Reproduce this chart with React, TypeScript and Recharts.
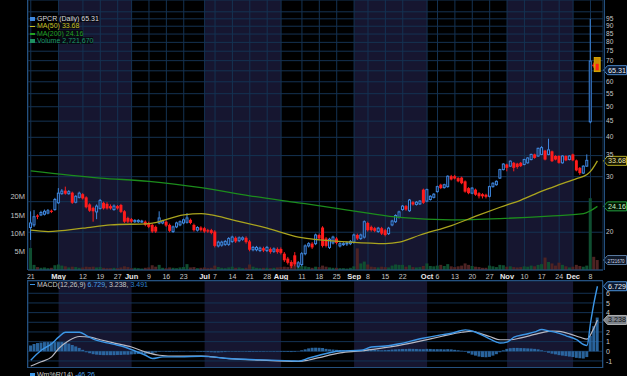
import React from "react";
import {
  ComposedChart,
  Bar,
  Line,
  XAxis,
  YAxis,
  CartesianGrid,
  ReferenceArea,
  ReferenceLine,
} from "recharts";

// ---------------- DATA ----------------
// trading days Apr 21 2014 .. Dec 10 2014 (index 0..163)
const OPEN = [
  20.7, 21.1, 22.6, 22.7, 22.8, 23.0, 23.4, 23.6, 24.8, 26.5,
  27.1, 26.5, 26.7, 24.9, 25.8, 26.4, 25.8, 24.5, 23.9, 23.2,
  23.8, 24.8, 24.6, 24.2, 23.6, 24.2, 24.4, 23.3, 22.2, 22.0,
  21.6, 21.6, 21.6, 21.6, 21.4, 21.1, 20.8, 21.4, 21.4, 21.6,
  21.1, 20.1, 20.8, 21.1, 21.4, 21.5, 21.9, 21.1, 20.3, 20.7,
  20.6, 20.3, 20.3, 20.1, 18.1, 18.2, 18.3, 18.3, 18.7, 19.2,
  18.8, 19.0, 19.2, 18.7, 17.6, 17.6, 17.5, 17.8, 17.5, 17.7,
  17.4, 17.7, 17.7, 17.1, 16.5, 16.1, 16.9, 15.6, 15.8, 17.1,
  18.1, 18.4, 18.4, 19.6, 20.7, 19.1, 17.9, 18.5, 19.1, 18.1,
  18.3, 18.4, 18.4, 18.6, 19.6, 19.1, 19.3, 21.4, 20.8, 20.6,
  20.1, 20.6, 20.3, 19.8, 21.1, 21.6, 22.3, 23.6, 24.2, 23.4,
  24.9, 24.5, 24.6, 27.3, 25.1, 25.4, 25.8, 26.9, 28.3, 27.7,
  27.9, 30.1, 30.1, 29.7, 29.8, 29.0, 27.6, 26.6, 27.3, 26.6,
  26.4, 26.3, 26.0, 27.9, 28.3, 29.7, 31.6, 32.8, 32.4, 33.2,
  33.0, 33.2, 32.8, 33.2, 34.0, 35.3, 34.9, 35.3, 36.3, 35.3,
  36.1, 34.9, 34.9, 33.2, 34.9, 34.0, 35.3, 33.8, 32.0, 30.8,
  32.4, 44.8, 68.0, 68.4,
];
const HIGH = [
  23.3, 23.5, 22.8, 23.4, 23.6, 23.7, 23.6, 25.7, 27.6, 27.4,
  27.9, 27.2, 26.9, 26.2, 26.9, 26.6, 26.0, 24.7, 24.1, 24.5,
  25.5, 25.0, 24.9, 24.5, 24.5, 24.4, 24.6, 23.5, 22.4, 22.2,
  22.0, 22.0, 21.9, 21.8, 21.6, 21.3, 21.0, 23.3, 21.9, 21.8,
  21.3, 21.0, 21.6, 21.8, 22.1, 23.0, 22.1, 21.3, 20.9, 20.9,
  20.8, 20.5, 20.5, 20.3, 18.8, 18.8, 18.9, 19.3, 19.5, 19.4,
  19.4, 19.4, 19.4, 18.9, 18.1, 18.1, 18.0, 18.0, 18.1, 17.9,
  17.9, 17.9, 17.9, 17.3, 16.7, 16.3, 17.3, 16.2, 17.3, 18.3,
  18.6, 18.6, 19.8, 19.8, 20.9, 19.3, 19.2, 19.5, 19.3, 18.6,
  18.6, 18.7, 18.9, 19.8, 19.8, 19.8, 21.8, 21.6, 21.0, 20.8,
  20.8, 20.8, 20.5, 20.8, 21.9, 22.8, 23.4, 24.4, 24.4, 25.5,
  25.1, 25.1, 25.3, 27.5, 27.5, 26.2, 26.6, 28.1, 28.5, 28.5,
  30.3, 30.4, 30.4, 29.9, 30.0, 29.2, 27.8, 27.8, 27.5, 26.8,
  26.6, 26.5, 28.1, 28.8, 29.2, 31.8, 33.1, 33.0, 33.8, 33.4,
  33.2, 33.4, 34.2, 34.6, 35.5, 35.5, 37.1, 37.5, 36.5, 39.6,
  36.3, 35.1, 35.1, 35.1, 35.1, 35.1, 35.5, 34.0, 32.2, 32.6,
  35.3, 95.0, 69.0, 71.6,
];
const LOW = [
  18.9, 20.8, 22.0, 22.5, 22.6, 22.8, 23.0, 23.4, 24.6, 26.3,
  26.3, 26.3, 24.6, 24.7, 25.6, 25.4, 23.8, 23.2, 21.6, 22.0,
  23.6, 23.6, 23.6, 23.6, 23.4, 23.6, 23.0, 21.4, 21.4, 21.4,
  21.4, 21.4, 21.4, 20.9, 20.6, 19.9, 19.9, 21.2, 21.2, 20.8,
  20.0, 19.9, 20.6, 20.9, 21.2, 21.3, 21.2, 20.1, 20.1, 20.1,
  19.9, 19.9, 19.7, 17.9, 17.9, 18.0, 18.1, 18.1, 18.5, 18.5,
  18.6, 18.8, 18.4, 17.4, 17.4, 17.4, 17.3, 17.3, 17.3, 17.1,
  17.2, 17.1, 17.0, 16.1, 15.8, 15.4, 15.6, 15.4, 15.6, 16.9,
  17.9, 17.7, 18.2, 18.9, 17.9, 17.9, 17.7, 18.3, 18.3, 17.9,
  18.1, 18.1, 18.2, 18.4, 18.9, 18.9, 19.1, 20.1, 20.1, 20.0,
  19.9, 19.6, 19.4, 19.6, 20.9, 21.4, 22.1, 23.4, 23.4, 23.2,
  24.3, 24.3, 24.4, 24.6, 24.9, 25.2, 25.6, 26.7, 27.4, 27.5,
  27.7, 29.2, 29.4, 28.8, 28.4, 26.7, 26.4, 26.4, 26.1, 25.6,
  25.6, 25.6, 25.8, 27.7, 28.1, 29.5, 31.4, 31.2, 32.2, 31.2,
  31.8, 32.2, 32.6, 33.0, 33.8, 34.2, 34.7, 35.1, 33.8, 35.1,
  33.4, 33.8, 33.0, 33.0, 33.6, 33.8, 33.6, 31.2, 30.4, 30.6,
  32.2, 44.3, 66.5, 64.6,
];
const CLOSE = [
  21.4, 22.4, 22.4, 23.1, 23.3, 23.4, 23.2, 25.4, 26.6, 27.0,
  26.5, 26.9, 24.8, 26.0, 26.6, 25.6, 24.0, 23.4, 23.3, 24.2,
  25.2, 23.8, 23.8, 23.8, 24.2, 23.8, 23.2, 21.6, 21.6, 21.6,
  21.8, 21.8, 21.7, 21.1, 20.8, 20.1, 20.1, 22.2, 21.7, 21.0,
  20.2, 20.8, 21.4, 21.6, 21.9, 22.2, 21.4, 20.3, 20.7, 20.3,
  20.1, 20.1, 19.9, 18.1, 18.6, 18.6, 18.7, 19.1, 19.3, 18.7,
  19.2, 19.2, 18.6, 17.6, 17.9, 17.9, 17.8, 17.5, 17.9, 17.3,
  17.7, 17.3, 17.2, 16.3, 16.0, 15.6, 15.8, 16.0, 17.1, 18.1,
  18.4, 17.9, 19.6, 19.1, 18.1, 18.1, 19.0, 19.3, 18.5, 18.4,
  18.4, 18.5, 18.7, 19.6, 19.1, 19.6, 21.6, 20.3, 20.3, 20.2,
  20.6, 19.8, 19.6, 20.6, 21.7, 22.6, 23.2, 24.2, 23.6, 25.3,
  24.5, 24.9, 25.1, 24.8, 27.3, 26.0, 26.4, 27.9, 27.6, 28.3,
  30.1, 29.4, 29.6, 29.0, 28.6, 26.9, 26.6, 27.6, 26.3, 26.0,
  26.0, 25.9, 27.9, 28.6, 29.0, 31.6, 32.9, 32.0, 33.6, 32.0,
  32.2, 32.4, 34.0, 34.4, 35.3, 34.4, 36.9, 37.1, 34.0, 36.5,
  33.6, 34.0, 33.2, 34.9, 33.8, 34.9, 33.8, 31.4, 30.8, 32.4,
  33.8, 69.8, 67.2, 65.31,
];
// volume in millions
const VOLUME_M = [
  6.0, 1.4, 0.8, 0.6, 0.7, 0.5, 0.6, 1.3, 1.5, 1.2,
  1.0, 0.7, 0.9, 0.8, 0.6, 0.7, 0.9, 0.8, 0.9, 0.7,
  0.8, 0.6, 0.5, 0.5, 0.6, 0.5, 0.7, 1.0, 0.8, 0.5,
  0.6, 0.5, 0.4, 0.6, 0.7, 1.3, 0.9, 1.4, 0.6, 0.5,
  0.7, 0.6, 0.5, 0.7, 0.8, 1.6, 0.7, 0.8, 0.5, 0.6,
  0.7, 0.5, 0.6, 1.2, 0.8, 0.6, 0.5, 0.7, 0.9, 0.6,
  0.7, 0.5, 0.6, 1.5, 0.9, 0.6, 0.5, 0.6, 0.6, 0.5,
  0.6, 0.7, 0.8, 0.9, 0.8, 1.0, 1.3, 0.9, 1.1, 1.0,
  0.8, 0.6, 0.9, 0.8, 1.2, 0.9, 0.7, 0.6, 0.6, 0.5,
  0.5, 0.4, 0.6, 1.0, 5.9, 1.8, 2.3, 1.5, 0.9, 0.8,
  0.7, 0.9, 0.8, 0.7, 1.2, 1.5, 1.4, 1.4, 0.9, 1.3,
  0.8, 0.7, 0.8, 1.1, 1.8, 1.1, 1.0, 1.2, 1.4, 1.1,
  1.6, 1.0, 0.8, 1.0, 1.2, 1.8, 1.4, 1.1, 0.9, 0.8,
  0.6, 0.6, 1.2, 1.0, 0.8, 1.4, 1.3, 0.9, 1.0, 0.8,
  0.7, 0.8, 1.0, 0.9, 1.2, 1.0, 1.4, 1.6, 3.4, 2.2,
  1.8, 1.2, 2.0, 1.4, 1.0, 0.7, 0.9, 1.4, 1.1, 0.9,
  1.2, 19.6, 3.6, 2.72167,
];
const HIST = [
  0.6, 0.75, 0.85, 0.9, 0.95, 0.95, 0.95, 0.95, 0.95, 0.95,
  0.9, 0.8, 0.65, 0.5, 0.35, 0.15, -0.1, -0.2, -0.3, -0.35,
  -0.38, -0.4, -0.4, -0.4, -0.4, -0.38, -0.38, -0.35, -0.35, -0.32,
  -0.3, -0.28, -0.3, -0.3, -0.25, -0.2, -0.12, -0.05, -0.02, -0.05,
  -0.06, -0.05, -0.04, -0.03, -0.02, 0.0, 0.02, -0.02, -0.05, -0.06,
  -0.06, -0.08, -0.1, -0.12, -0.12, -0.1, -0.08, -0.05, -0.04, -0.05,
  -0.05, -0.04, -0.05, -0.07, -0.06, -0.05, -0.05, -0.05, -0.04, -0.04,
  -0.05, -0.05, -0.06, -0.06, -0.07, -0.08, -0.06, 0.02, 0.1, 0.2,
  0.3, 0.36, 0.37, 0.36, 0.34, 0.25, 0.2, 0.18, 0.15, 0.12,
  0.1, 0.08, 0.08, 0.1, 0.12, 0.14, 0.2, 0.2, 0.18, 0.15,
  0.12, 0.1, 0.12, 0.14, 0.18, 0.2, 0.22, 0.24, 0.24, 0.26,
  0.25, 0.24, 0.22, 0.22, 0.25, 0.24, 0.22, 0.22, 0.22, 0.2,
  0.22, 0.2, 0.15, 0.1, 0.05, -0.05, -0.2, -0.35, -0.45, -0.55,
  -0.6, -0.62, -0.58, -0.45, -0.3, -0.1, 0.1, 0.25, 0.32, 0.35,
  0.35, 0.33, 0.32, 0.3, 0.28, 0.25, 0.2, 0.1, -0.05, -0.15,
  -0.25, -0.32, -0.4, -0.45, -0.5, -0.55, -0.6, -0.68, -0.72, -0.75,
  -0.6, 1.6, 2.6, 3.491,
];

const MA50_IDX = [0, 5, 15, 23, 34, 44, 49, 52, 58, 68, 77, 92, 102, 106, 112, 121, 129, 135, 141, 147, 152, 157, 160, 161, 163];
const MA50_VAL = [20.3, 20.1, 20.6, 21.1, 21.3, 22.7, 22.9, 22.7, 21.9, 20.6, 19.3, 18.6, 18.4, 18.6, 19.6, 21.0, 22.7, 24.0, 25.3, 27.0, 28.3, 29.6, 30.5, 31.2, 33.68];
const MA200_IDX = [0, 20, 34, 49, 63, 77, 87, 97, 106, 121, 135, 149, 159, 161, 163];
const MA200_VAL = [31.3, 29.7, 29.0, 27.7, 26.1, 24.8, 23.9, 23.0, 22.3, 21.9, 22.1, 22.5, 22.9, 23.4, 24.16];

const MACD_IDX = [0, 3, 6, 8, 10, 14, 16, 19, 21, 24, 27, 30, 33, 35, 38, 43, 49, 52, 57, 63, 69, 75, 77, 80, 83, 89, 95, 98, 102, 106, 112, 118, 121, 125, 128, 131, 134, 135, 137, 139, 142, 145, 147, 149, 151, 154, 157, 159, 160, 161, 162, 163];
const MACD_VAL = [-0.92, 0.1, 0.78, 1.46, 1.97, 1.97, 1.63, 1.12, 0.95, 0.71, 0.44, 0.03, -0.41, -0.75, -0.58, -0.58, -0.51, -0.58, -0.75, -0.85, -0.92, -0.99, -1.02, -0.7, -0.41, 0.03, 0.1, 0.44, 0.54, 0.78, 1.29, 1.7, 1.87, 2.21, 1.97, 1.46, 0.95, 0.85, 0.95, 1.46, 1.73, 2.0, 2.25, 2.1, 1.95, 1.6, 1.2, 0.7, 0.6, 2.9, 5.0, 6.729];
const SIG_IDX = [0, 3, 6, 8, 11, 14, 17, 20, 24, 29, 33, 37, 42, 49, 57, 66, 77, 80, 83, 89, 95, 100, 106, 112, 118, 124, 127, 129, 132, 135, 138, 141, 145, 148, 150, 152, 155, 158, 160, 161, 162, 163];
const SIG_VAL = [-1.53, -1.09, -0.58, 0.27, 1.12, 1.53, 1.46, 1.19, 0.85, 0.44, -0.07, -0.41, -0.51, -0.51, -0.75, -0.92, -1.05, -0.9, -0.65, -0.17, 0.03, 0.27, 0.61, 1.05, 1.53, 1.97, 2.07, 1.87, 1.53, 1.19, 1.19, 1.39, 1.75, 2.0, 2.1, 2.05, 1.8, 1.45, 1.25, 1.7, 2.4, 3.238];

const TICK_IDX = [0, 8, 15, 20, 25, 29, 34, 39, 44, 50, 53, 58, 63, 68, 72, 78, 83, 88, 93, 97, 102, 107, 114, 117, 122, 127, 132, 137, 142, 147, 152, 156, 161];
const TICK_LABELS = ["21", "May", "12", "19", "27", "Jun", "9", "16", "23", "Jul", "7", "14", "21", "28", "Aug", "11", "18", "25", "Sep", "8", "15", "22", "Oct", "6", "13", "20", "27", "Nov", "10", "17", "24", "Dec", "8"];
const MONTH_START = [8, 50, 93, 137];
const MONTH_END = [29, 72, 114, 156];

const PRICE_TICKS = [20, 25, 30, 35, 40, 45, 50, 55, 60, 65, 70, 75, 80, 85, 90, 95, 100];
const PRICE_TICKS_UNLABELED = [25, 65, 100]; // hidden under value boxes / top
const VOL_TICKS = [5, 10, 15, 20];
const MACD_TICKS = [-1, 0, 1, 2, 3, 4, 5, 6];
const MACD_TICKS_UNLABELED = [3];

const SYMBOL = "GPCR";
const LAST_CLOSE = 65.31;
const LAST_MA50 = 33.68;
const LAST_MA200 = 24.16;
const LAST_VOLUME = 2721670;
const LAST_MACD = 6.729;
const LAST_SIGNAL = 3.238;
const LAST_HIST = 3.491;
const LAST_WR = -46.26;

// ---------------- LAYOUT / STYLE ----------------
const W = 627;
const PLOT_L = 28;
const AXIS_R = 24;
const PRICE_H = 281;
const XAXIS_H = 11;
const MACD_TOP = 281;
const MACD_H = 87;
const X_DOMAIN: [number, number] = [-0.8, 164.6];
const PRICE_DOMAIN: [number, number] = [15.18, 109];
const VOL_DOMAIN: [number, number] = [0, 73.7];
const MACD_DOMAIN: [number, number] = [-1.73, 7.27];

const FONT = "'Liberation Sans', Arial, sans-serif";
const GRID = "#143252";
const BORDER = "#24507e";
const SHADE = "#2c2c60";
const SHADE_OPACITY = 0.5;
const BLUE = "#3f88de";
const RED = "#ff1c1c";
const VGREEN = "#0f4e30";
const VRED = "#4e2323";
const LAST_I = OPEN.length - 1;

type Row = {
  i: number; o: number; h: number; l: number; c: number; range: number[];
  vol: number; hist: number;
  ma50: number | null; ma200: number | null; macd: number | null; sig: number | null;
};

const rows: Row[] = OPEN.map((o, i) => ({
  i, o, h: HIGH[i], l: LOW[i], c: CLOSE[i], range: [LOW[i], HIGH[i]],
  vol: VOLUME_M[i], hist: HIST[i], ma50: null, ma200: null, macd: null, sig: null,
}));
MA50_IDX.forEach((ix, k) => { rows[ix].ma50 = MA50_VAL[k]; });
MA200_IDX.forEach((ix, k) => { rows[ix].ma200 = MA200_VAL[k]; });
MACD_IDX.forEach((ix, k) => { rows[ix].macd = MACD_VAL[k]; });
SIG_IDX.forEach((ix, k) => { rows[ix].sig = SIG_VAL[k]; });

// ---------------- SHAPES ----------------
function Candle(p: any) {
  const { x, y, width, height, payload } = p;
  if (x == null || y == null || !payload) return <g />;
  const { o, h, l, c, i } = payload;
  const cx = x + width / 2;
  const span = Math.log(h) - Math.log(l);
  const py = (v: number) => y + (span > 0 ? ((Math.log(h) - Math.log(v)) / span) * height : 0);
  const up = c >= o;
  const top = py(Math.max(o, c));
  const bot = py(Math.min(o, c));
  const bh = Math.max(1, bot - top);
  const col = up ? BLUE : RED;
  const last = i === LAST_I;
  return (
    <g>
      {last && (
        <rect x={cx - 3} y={y} width={6} height={height} fill="#c88c00" stroke="#e8b400" strokeWidth={0.8} />
      )}
      {up ? (
        <g>
          <line x1={cx} x2={cx} y1={y} y2={top} stroke={col} strokeWidth={1} />
          <line x1={cx} x2={cx} y1={top + bh} y2={y + height} stroke={col} strokeWidth={1} />
          <rect x={cx - 1} y={top} width={2} height={bh} fill="#07102a" stroke={col} strokeWidth={1} />
        </g>
      ) : (
        <g>
          {!last && <line x1={cx} x2={cx} y1={y} y2={y + height} stroke={col} strokeWidth={1} />}
          <rect x={cx - 1.5} y={top} width={3} height={bh} fill={col} />
        </g>
      )}
    </g>
  );
}

function VolShape(p: any) {
  const { x, y, width, height, payload } = p;
  if (x == null || y == null || !payload) return <g />;
  const up = payload.c >= payload.o;
  return <rect x={x} y={y} width={width} height={Math.max(0, height)} fill={up ? VGREEN : VRED} />;
}

function XTick(p: any) {
  const { x, y, payload } = p;
  const k = TICK_IDX.indexOf(payload.value);
  const label = k >= 0 ? TICK_LABELS[k] : "";
  const isMonth = /[A-Za-z]/.test(label);
  return (
    <text x={x} y={y + 8.5} textAnchor="middle" fontFamily={FONT} fontSize={isMonth ? 7.5 : 7}
      fontWeight={isMonth ? 700 : 400} fill={isMonth ? "#e8e8e8" : "#c8c8c8"}>
      {label}
    </text>
  );
}

function PriceTick(p: any) {
  const { x, y, payload } = p;
  if (PRICE_TICKS_UNLABELED.includes(payload.value)) return <g />;
  return (
    <text x={x + 3} y={y + 1.9} textAnchor="start" fontFamily={FONT} fontSize={6.6} fill="#c8c8c8">
      {payload.value}
    </text>
  );
}

function VolTick(p: any) {
  const { x, y, payload } = p;
  return (
    <text x={x - 3} y={y + 2.6} textAnchor="end" fontFamily={FONT} fontSize={7.5} fill="#c0c0c0">
      {`${payload.value}M`}
    </text>
  );
}

function MacdTick(p: any) {
  const { x, y, payload } = p;
  if (MACD_TICKS_UNLABELED.includes(payload.value)) return <g />;
  return (
    <text x={x + 3} y={y + 2.6} textAnchor="start" fontFamily={FONT} fontSize={7} fill="#c8c8c8">
      {payload.value}
    </text>
  );
}

function ValueBox(p: any) {
  const { viewBox, text, stroke, fill, color, fit } = p;
  if (!viewBox) return <g />;
  const x = viewBox.x + viewBox.width;
  const y = viewBox.y;
  const d = `M${x + 0.5},${y} L${x + 4.5},${y - 4.5} L${x + 23.5},${y - 4.5} L${x + 23.5},${y + 4.5} L${x + 4.5},${y + 4.5} Z`;
  return (
    <g>
      <path d={d} fill={fill} stroke={stroke} strokeWidth={1} />
      <text x={x + (fit ? 4.5 : 5)} y={y + 2.5} fontFamily={FONT} fontSize={fit ? 4.8 : 7.2} fill={color}
        {...(fit ? { textLength: 17, lengthAdjust: "spacingAndGlyphs" } : {})}>
        {text}
      </text>
    </g>
  );
}

const monthShades = (yAxisId: string) =>
  MONTH_START.map((a, k) => (
    <ReferenceArea key={`s${a}`} xAxisId="x" yAxisId={yAxisId} x1={a} x2={MONTH_END[k]}
      fill={SHADE} fillOpacity={SHADE_OPACITY} stroke="none" ifOverflow="hidden" {...({ zIndex: -150 } as any)} />
  ));

const Icon = ({ color, kind }: { color: string; kind: string }) => (
  <span style={{ display: "inline-block", width: 5, height: kind === "line" ? 1.5 : 4, background: color, marginRight: 2, verticalAlign: "middle" }} />
);

export default function App() {
  return (
    <div style={{ position: "fixed", left: 0, top: 0, width: W, height: 376, background: "#000", overflow: "hidden", fontFamily: FONT }}>
      {/* price + volume panel */}
      <div style={{ position: "absolute", left: 0, top: 0 }}>
        <ComposedChart width={W} height={PRICE_H} data={rows} margin={{ top: 0, right: 0, bottom: 0, left: 0 }}>
          <XAxis xAxisId="x" dataKey="i" type="number" domain={X_DOMAIN} allowDataOverflow ticks={TICK_IDX}
            interval={0} height={XAXIS_H} tick={<XTick />} tickLine={false} tickSize={0} tickMargin={0}
            axisLine={{ stroke: BORDER }} />
          <XAxis xAxisId="xv" dataKey="i" type="number" domain={X_DOMAIN} allowDataOverflow hide />
          <YAxis yAxisId="vol" orientation="left" domain={VOL_DOMAIN} allowDataOverflow ticks={VOL_TICKS}
            interval={0} width={PLOT_L} tick={<VolTick />} tickLine={false} tickSize={0} tickMargin={0} axisLine={false} />
          <YAxis yAxisId="price" orientation="right" scale="log" domain={PRICE_DOMAIN} allowDataOverflow
            ticks={PRICE_TICKS} interval={0} width={AXIS_R} tick={<PriceTick />} tickLine={false} tickSize={0}
            tickMargin={0} axisLine={false} />
          {monthShades("price")}
          <CartesianGrid xAxisId="x" yAxisId="price" stroke={GRID} strokeWidth={1} fill="none" {...({ zIndex: -100 } as any)} />
          <Bar xAxisId="xv" yAxisId="vol" dataKey="vol" barSize={3} isAnimationActive={false} shape={VolShape} />
          <Line xAxisId="x" yAxisId="price" dataKey="ma200" type="monotone" connectNulls dot={false}
            stroke="#1c8c1c" strokeWidth={1.3} isAnimationActive={false} />
          <Line xAxisId="x" yAxisId="price" dataKey="ma50" type="monotone" connectNulls dot={false}
            stroke="#aaa41e" strokeWidth={1.3} isAnimationActive={false} />
          <Bar xAxisId="x" yAxisId="price" dataKey="range" barSize={3} isAnimationActive={false} shape={Candle} />
          <ReferenceLine xAxisId="x" yAxisId="price" y={LAST_CLOSE} stroke="none"
            label={<ValueBox text={LAST_CLOSE.toFixed(2)} stroke="#4a86c8" fill="#0a1830" color="#e8eef6" />} />
          <ReferenceLine xAxisId="x" yAxisId="price" y={LAST_MA50} stroke="none"
            label={<ValueBox text={LAST_MA50.toFixed(2)} stroke="#b4aa22" fill="#141400" color="#ece6a8" />} />
          <ReferenceLine xAxisId="x" yAxisId="price" y={LAST_MA200} stroke="none"
            label={<ValueBox text={LAST_MA200.toFixed(2)} stroke="#22a040" fill="#001600" color="#c8f0c8" />} />
          <ReferenceLine xAxisId="xv" yAxisId="vol" y={LAST_VOLUME / 1e6} stroke="none"
            label={<ValueBox text={String(LAST_VOLUME)} fit stroke="#5a7aa0" fill="#0e1828" color="#d8dee8" />} />
        </ComposedChart>
      </div>

      {/* MACD panel */}
      <div style={{ position: "absolute", left: 0, top: MACD_TOP }}>
        <ComposedChart width={W} height={MACD_H} data={rows} margin={{ top: 0, right: 0, bottom: 0, left: PLOT_L }}>
          <XAxis xAxisId="x" dataKey="i" type="number" domain={X_DOMAIN} allowDataOverflow ticks={TICK_IDX}
            interval={0} height={0} tick={false} tickLine={false} axisLine={false} />
          <YAxis yAxisId="m" orientation="right" domain={MACD_DOMAIN} allowDataOverflow ticks={MACD_TICKS}
            interval={0} width={AXIS_R} tick={<MacdTick />} tickLine={false} tickSize={0} tickMargin={0} axisLine={false} />
          {monthShades("m")}
          <CartesianGrid xAxisId="x" yAxisId="m" stroke={GRID} strokeWidth={1} fill="none" {...({ zIndex: -100 } as any)} />
          <Bar xAxisId="x" yAxisId="m" dataKey="hist" barSize={3} fill="#2d6eac" fillOpacity={0.9} isAnimationActive={false} />
          <Line xAxisId="x" yAxisId="m" dataKey="sig" type="monotone" connectNulls dot={false}
            stroke="#b8b8c2" strokeWidth={1.2} isAnimationActive={false} />
          <Line xAxisId="x" yAxisId="m" dataKey="macd" type="monotone" connectNulls dot={false}
            stroke="#3c96e6" strokeWidth={1.4} isAnimationActive={false} />
          <ReferenceLine xAxisId="x" yAxisId="m" y={LAST_MACD} stroke="none"
            label={<ValueBox text={LAST_MACD.toFixed(3)} stroke="#4a90d8" fill="#0a1830" color="#e8f0f8" />} />
          <ReferenceLine xAxisId="x" yAxisId="m" y={LAST_SIGNAL} stroke="none"
            label={<ValueBox text={LAST_SIGNAL.toFixed(3)} stroke="#b0b0b0" fill="#7c828a" color="#101010" />} />
        </ComposedChart>
      </div>

      {/* panel borders */}
      <div style={{ position: "absolute", left: PLOT_L - 1, top: -1, width: W - PLOT_L - AXIS_R + 1, height: PRICE_H - XAXIS_H + 1, borderLeft: `1px solid ${BORDER}`, borderRight: `1px solid ${BORDER}`, pointerEvents: "none" }} />
      <div style={{ position: "absolute", left: PLOT_L - 1, top: MACD_TOP - 1, width: W - PLOT_L - AXIS_R + 1, height: MACD_H + 1, border: `1px solid ${BORDER}`, pointerEvents: "none", boxSizing: "border-box" }} />

      {/* price legend */}
      <div style={{ position: "absolute", left: 30, top: 15, fontSize: 7, lineHeight: "7.4px", whiteSpace: "nowrap" }}>
        <div><Icon color={BLUE} kind="box" /><span style={{ color: "#d8d8d8", background: "rgba(0,0,0,0.6)" }}>{`${SYMBOL} (Daily) ${LAST_CLOSE}`}</span></div>
        <div><Icon color="#c8c020" kind="line" /><span style={{ color: "#c8c020", background: "rgba(0,0,0,0.6)" }}>{`MA(50) ${LAST_MA50}`}</span></div>
        <div><Icon color="#22a022" kind="line" /><span style={{ color: "#22a022", background: "rgba(0,0,0,0.6)" }}>{`MA(200) ${LAST_MA200}`}</span></div>
        <div><Icon color="#1e9060" kind="box" /><span style={{ color: "#1e9a68", background: "rgba(0,0,0,0.6)" }}>{`Volume ${LAST_VOLUME.toLocaleString("en-US")}`}</span></div>
      </div>

      {/* MACD legend */}
      <div style={{ position: "absolute", left: 30, top: 280.5, fontSize: 7, lineHeight: "8px", whiteSpace: "nowrap" }}>
        <Icon color="#3c96e6" kind="line" />
        <span style={{ color: "#c8c8c8" }}>MACD(12,26,9) </span>
        <span style={{ color: "#4aa0ea" }}>{LAST_MACD}</span>
        <span style={{ color: "#c8c8c8" }}>{`, ${LAST_SIGNAL}, `}</span>
        <span style={{ color: "#2f80cc" }}>{LAST_HIST}</span>
      </div>

      {/* Williams %R legend (cut at bottom edge) */}
      <div style={{ position: "absolute", left: 30, top: 370.5, fontSize: 7, lineHeight: "8px", whiteSpace: "nowrap" }}>
        <Icon color="#3c96e6" kind="box" />
        <span style={{ color: "#c8c8c8" }}>Wm%R(14) </span>
        <span style={{ color: "#4aa0ea" }}>{LAST_WR}</span>
      </div>
    </div>
  );
}
